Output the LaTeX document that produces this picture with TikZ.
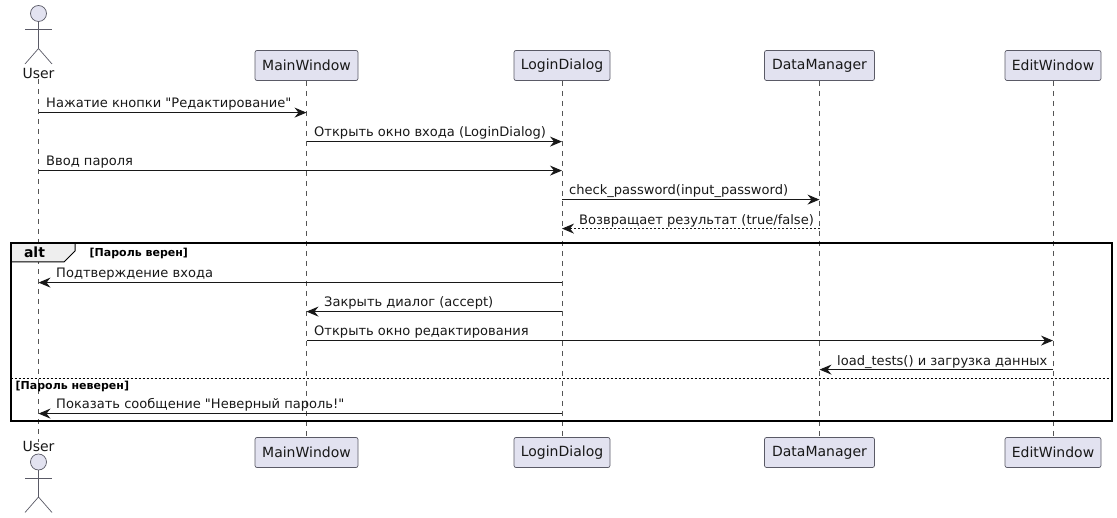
\documentclass[tikz,border=0pt]{standalone}
\usepackage{fontspec}
\newfontfamily\umlfont{DejaVu Sans}
\AtBeginDocument{\umlfont}
\usetikzlibrary{arrows.meta,calc}
\definecolor{partfill}{HTML}{E2E2F0}
\definecolor{partline}{HTML}{5A5A66}
\definecolor{lifeline}{HTML}{555555}
\definecolor{inkline}{HTML}{181818}
\definecolor{tabfill}{HTML}{EEEEEE}
\tikzset{
    part/.style={draw=partline,fill=partfill,rounded corners=2pt,line width=0.7pt,minimum height=30pt,inner sep=0pt,text=inkline,font=\fontsize{14}{16}\selectfont},
    lifedash/.style={draw=lifeline,line width=0.6pt,dash pattern=on 5pt off 5pt},
    actorline/.style={draw=partline,line width=0.7pt},
    msg/.style={draw=inkline,line width=1pt,-{Stealth[length=12pt,width=10pt,inset=4pt]}},
    msgret/.style={msg,dash pattern=on 2pt off 2pt},
    msgtxt/.style={anchor=base west,inner sep=0pt,text=inkline,font=\fontsize{13.05}{16}\selectfont},
    guard/.style={anchor=base west,inner sep=0pt,font=\fontsize{11}{12}\bfseries\selectfont}
}
\begin{document}
\begin{tikzpicture}[x=1pt,y=-1pt]
    \useasboundingbox (0,0) rectangle (1117,518);

    % Participants du haut
    \node[anchor=base,inner sep=0pt,text=inkline,font=\fontsize{14}{16}\selectfont] (user) at (38.5,79) {User};
    \node[part,minimum width=103pt] (main) at (306.5,65.5) {MainWindow};
    \node[part,minimum width=96pt] (login) at (562,65.5) {LoginDialog};
    \node[part,minimum width=110pt] (data) at (819.5,65.5) {DataManager};
    \node[part,minimum width=96pt] (edit) at (1053,65.5) {EditWindow};

    % Participants du bas
    \node[anchor=base,inner sep=0pt,text=inkline,font=\fontsize{14}{16}\selectfont] (userb) at (38.5,452) {User};
    \node[part,minimum width=103pt] (mainb) at (306.5,452.5) {MainWindow};
    \node[part,minimum width=96pt] (loginb) at (562,452.5) {LoginDialog};
    \node[part,minimum width=110pt] (datab) at (819.5,452.5) {DataManager};
    \node[part,minimum width=96pt] (editb) at (1053,452.5) {EditWindow};

    % Lignes de vie
    \draw[lifedash] (user.south) -- (userb.north);
    \foreach \p in {main,login,data,edit} {
        \draw[lifedash] (\p.south) -- (\p b.north);
    }

    % Acteurs
    \foreach \y/\tag in {13.5/a,462/b} {
        \node[circle,draw=partline,fill=partfill,line width=0.7pt,minimum size=16pt,inner sep=0pt] (head\tag) at (38.5,\y) {};
        \coordinate (arml\tag) at ($(head\tag)+(-13.5,16)$);
        \coordinate (armr\tag) at ($(head\tag)+(13.5,16)$);
        \coordinate (hip\tag) at ($(head\tag)+(0,35)$);
        \coordinate (legl\tag) at ($(head\tag)+(-13.5,50.5)$);
        \coordinate (legr\tag) at ($(head\tag)+(13.5,50.5)$);
        \draw[actorline] (head\tag.south) -- (hip\tag);
        \draw[actorline] (arml\tag) -- (armr\tag);
        \draw[actorline] (legl\tag) -- (hip\tag) -- (legr\tag);
    }

    % Points sur les lignes de vie
    \foreach \p in {user,main,login,data,edit} {
        \foreach \y/\r in {112.6/1,141.6/2,170.6/3,199.6/4,228.6/5,282.6/6,311.6/7,340.6/8,369.6/9,413.6/10} {
            \coordinate (\p-\r) at (\p.south |- 0,\y);
        }
    }

    % Cadre alt
    \coordinate (fnw) at (10.5,243.5);
    \coordinate (fse) at (1112,421);
    \coordinate (elsew) at (10.5,378.5);
    \coordinate (elsee) at (1112,378.5);
    \fill[tabfill] (fnw) -- (75,243.5) -- (75,251) -- (64,262) -- (10.5,262) -- cycle;
    \draw[black,line width=1pt] (10.5,262) -- (64,262) -- (75,251) -- (75,243.5);
    \draw[black,line width=1pt,dash pattern=on 2pt off 2pt] (elsew) -- (elsee);
    \draw[black,line width=2pt] (fnw) rectangle (fse);
    \node[anchor=base,inner sep=0pt,font=\fontsize{14}{15}\bfseries\selectfont] (alttag) at (34.5,257.5) {alt};
    \node[guard] (guardok) at (89.5,256.5) {[Пароль верен]};
    \node[guard] (guardno) at (15.5,389.5) {[Пароль неверен]};

    % Messages
    \draw[msg] (user-1) -- (main-1);
    \draw[msg] (main-2) -- (login-2);
    \draw[msg] (user-3) -- (login-3);
    \draw[msg] (login-4) -- (data-4);
    \draw[msgret] (data-5) -- (login-5);
    \draw[msg] (login-6) -- (user-6);
    \draw[msg] (login-7) -- (main-7);
    \draw[msg] (main-8) -- (edit-8);
    \draw[msg] (edit-9) -- (data-9);
    \draw[msg] (login-10) -- (user-10);

    % Textes des messages
    \node[msgtxt] (t1) at (46,108) {Нажатие кнопки "Редактирование"};
    \node[msgtxt] (t2) at (314,137) {Открыть окно входа (LoginDialog)};
    \node[msgtxt] (t3) at (46,166) {Ввод пароля};
    \node[msgtxt] (t4) at (569,195) {check\_password(input\_password)};
    \node[msgtxt] (t5) at (579,224.5) {Возвращает результат (true/false)};
    \node[msgtxt] (t6) at (56,278) {Подтверждение входа};
    \node[msgtxt] (t7) at (324,307) {Закрыть диалог (accept)};
    \node[msgtxt] (t8) at (314,336) {Открыть окно редактирования};
    \node[msgtxt] (t9) at (837,365.5) {load\_tests() и загрузка данных};
    \node[msgtxt] (t10) at (56,409) {Показать сообщение "Неверный пароль!"};
\end{tikzpicture}
\end{document}
